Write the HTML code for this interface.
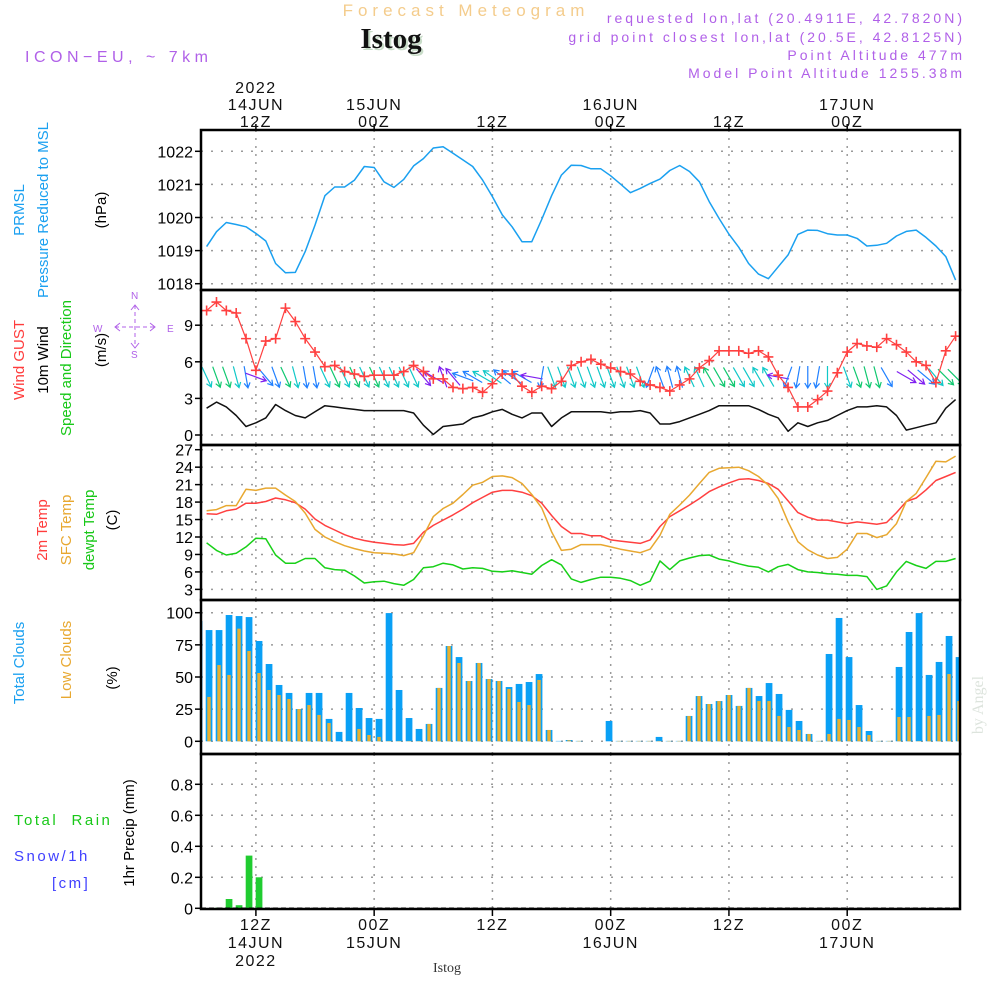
<!DOCTYPE html>
<html><head><meta charset="utf-8"><style>
html,body{margin:0;padding:0;background:#fff;}
svg{display:block;font-family:"Liberation Sans",sans-serif;}
</style></head><body>
<svg id="chart" width="1000" height="1000" viewBox="0 0 1000 1000" xmlns="http://www.w3.org/2000/svg">
<rect x="0" y="0" width="1000" height="1000" fill="#fff"/>
<text x="466" y="16" text-anchor="middle" font-size="17" letter-spacing="5" fill="#f4cc8c">Forecast Meteogram</text>
<text x="393" y="50" text-anchor="middle" font-size="29" font-weight="bold" font-family="Liberation Serif,serif" fill="#c8dcc8">Istog</text>
<text x="391" y="48" text-anchor="middle" font-size="29" font-weight="bold" font-family="Liberation Serif,serif" fill="#111">Istog</text>
<text x="25" y="62" font-size="16" letter-spacing="4.5" fill="#b060e8">ICON−EU, ~ 7km</text>
<g font-size="14" letter-spacing="3" fill="#b060e8" text-anchor="end">
<text x="965" y="23">requested lon,lat (20.4911E, 42.7820N)</text>
<text x="965" y="42">grid point closest lon,lat (20.5E, 42.8125N)</text>
<text x="965" y="60">Point Altitude 477m</text>
<text x="965" y="78">Model Point Altitude 1255.38m</text>
</g>
<g font-size="15">
<text transform="translate(24,210) rotate(-90)" text-anchor="middle" fill="#1aa0f0">PRMSL</text>
<text transform="translate(48,210) rotate(-90)" text-anchor="middle" fill="#1aa0f0">Pressure Reduced to MSL</text>
<text transform="translate(106,210) rotate(-90)" text-anchor="middle" fill="#000">(hPa)</text>
<text transform="translate(24,360) rotate(-90)" text-anchor="middle" fill="#ff3c3c">Wind GUST</text>
<text transform="translate(48,360) rotate(-90)" text-anchor="middle" fill="#000">10m Wind</text>
<text transform="translate(71,368) rotate(-90)" text-anchor="middle" fill="#18c818">Speed and Direction</text>
<text transform="translate(106,350) rotate(-90)" text-anchor="middle" fill="#000">(m/s)</text>
<text transform="translate(47,530) rotate(-90)" text-anchor="middle" fill="#ff3c3c">2m Temp</text>
<text transform="translate(71,530) rotate(-90)" text-anchor="middle" fill="#e8a830">SFC Temp</text>
<text transform="translate(94,530) rotate(-90)" text-anchor="middle" fill="#18c818">dewpt Temp</text>
<text transform="translate(117,520) rotate(-90)" text-anchor="middle" fill="#000">(C)</text>
<text transform="translate(24,663) rotate(-90)" text-anchor="middle" fill="#1aa0f0">Total Clouds</text>
<text transform="translate(71,660) rotate(-90)" text-anchor="middle" fill="#e8a830">Low Clouds</text>
<text transform="translate(117,678) rotate(-90)" text-anchor="middle" fill="#000">(%)</text>
<text x="14" y="825" fill="#18c818" letter-spacing="2.5" xml:space="preserve">Total  Rain</text>
<text x="14" y="861" fill="#4040ff" letter-spacing="2.5">Snow/1h</text>
<text x="52" y="888" fill="#4040ff" letter-spacing="2.5">[cm]</text>
<text transform="translate(134,833) rotate(-90)" text-anchor="middle" fill="#000">1hr Precip (mm)</text>
</g>
<g fill="#b060e8" stroke="#b060e8" font-size="10">
<text x="93" y="332" stroke="none">W</text><text x="167" y="332" stroke="none">E</text>
<text x="131" y="299" stroke="none">N</text><text x="131" y="358" stroke="none">S</text>
<line x1="115" y1="327" x2="155" y2="327" stroke-dasharray="4,3"/>
<line x1="135" y1="305" x2="135" y2="348" stroke-dasharray="4,3"/>
<path d="M120 323 L115 327 L120 331 M150 323 L155 327 L150 331 M131 310 L135 305 L139 310 M131 343 L135 348 L139 343" fill="none"/>
</g>
<text transform="translate(983,705) rotate(-90)" text-anchor="middle" font-size="16" font-family="Liberation Serif,serif" fill="#dde4dd">by Angel</text>
<text x="447" y="972" text-anchor="middle" font-size="14" font-family="Liberation Serif,serif" fill="#333">Istog</text>
<g id="plot"></g>
</svg>
<script>
// ---- data (hourly, t = -5 .. 71 hours from 12Z 14JUN) ----
const timeTickHours = [0, 12, 24, 36, 48, 60];
const topTickLabels = [["2022","14JUN","12Z"],["15JUN","00Z"],["12Z"],["16JUN","00Z"],["12Z"],["17JUN","00Z"]];
const bottomTickLabels = [["12Z","14JUN","2022"],["00Z","15JUN"],["12Z"],["00Z","16JUN"],["12Z"],["00Z","17JUN"]];
const pressure = [1019.12,1019.57,1019.85,1019.79,1019.72,1019.52,1019.29,1018.61,1018.33,1018.34,1018.97,1019.77,1020.66,1020.92,1020.92,1021.13,1021.54,1021.51,1021.08,1020.91,1021.15,1021.56,1021.78,1022.10,1022.14,1021.94,1021.74,1021.54,1021.13,1020.63,1020.08,1019.72,1019.27,1019.27,1019.94,1020.66,1021.28,1021.58,1021.57,
1021.47,1021.47,1021.26,1021.01,1020.75,1020.88,1021.03,1021.16,1021.42,1021.57,1021.39,1021.08,1020.48,1019.97,1019.50,1019.10,1018.61,1018.29,1018.15,1018.51,1018.87,1019.49,1019.62,1019.61,1019.51,1019.47,1019.47,1019.37,1019.14,1019.16,1019.22,1019.44,1019.58,1019.62,1019.40,1019.14,1018.82,1018.11];
const gust = [10.2,10.9,10.2,10.0,7.9,5.3,7.7,7.9,10.4,9.3,7.9,6.8,5.6,5.7,5.2,5.0,4.8,4.9,4.9,4.9,5.2,5.7,5.2,4.6,4.6,3.9,3.8,3.9,3.5,4.2,5.0,5.0,4.0,3.5,4.0,3.8,4.4,5.7,6.0,
6.2,5.8,5.5,5.2,5.0,4.4,4.1,3.9,3.6,4.1,4.6,5.5,6.1,6.9,6.9,6.9,6.7,6.9,6.4,4.9,3.9,2.3,2.3,2.9,3.6,5.1,6.8,7.5,7.3,7.2,7.9,7.4,6.8,6.0,5.7,4.3,6.9,8.1];
const windSpeed = [2.2,2.7,2.3,1.6,0.7,1.0,1.4,2.5,2.0,1.6,1.4,1.9,2.4,2.3,2.2,2.1,2.0,2.0,2.0,2.0,2.0,1.8,0.8,0.05,0.7,0.8,0.9,1.4,1.6,1.9,2.1,1.7,1.4,1.8,1.8,0.7,1.4,1.9,1.9,
1.9,1.9,1.8,1.9,1.9,2.0,1.8,0.9,0.9,1.1,1.4,1.7,2.0,2.4,2.4,2.4,2.4,2.1,1.7,1.4,0.3,1.0,0.7,1.0,1.2,1.6,2.0,2.3,2.3,2.4,2.3,1.6,0.4,0.6,0.8,1.0,2.2,2.9];
const windDir = [155,160,160,165,170,110,140,160,155,165,170,170,155,155,155,155,155,155,155,155,155,155,140,300,340,320,290,300,300,305,310,305,300,280,190,160,160,160,160,
160,160,160,160,160,160,200,340,345,345,335,335,330,150,150,150,150,330,330,280,200,190,180,190,180,-1,160,160,165,165,150,-1,120,130,130,140,135,135];
const windCol = ["c","g","g","c","b","p","b","b","g","c","b","b","c","g","c","g","c","g","c","c","c","c","p","p","p","p","b","b","c","c","b","b","b","p","b","c","c","c","c",
"c","c","c","c","c","c","b","b","b","b","c","c","g","g","g","c","c","c","c","p","b","b","b","b","c","c","c","g","g","g","b","c","p","p","b","c","g","g"];
const temp2m = [16.0,15.9,16.5,16.8,17.8,17.8,18.1,18.7,18.4,17.9,16.8,15.1,14.0,13.2,12.4,11.8,11.4,11.1,10.9,10.7,10.6,10.9,12.8,14.0,14.9,15.8,16.8,17.9,18.8,19.7,20.0,20.0,19.7,19.1,17.8,15.7,13.8,12.6,12.6,
12.2,12.2,11.5,11.3,11.1,10.9,11.5,13.8,15.5,16.5,17.5,18.6,19.8,20.6,21.3,21.9,22.0,21.7,21.2,20.2,18.2,16.2,15.4,14.9,14.9,14.6,14.3,14.6,14.4,14.2,14.5,16.2,18.1,18.7,20.1,21.7,22.4,23.1];
const sfcTemp = [16.5,16.7,17.4,17.4,20.2,20.0,20.4,20.4,19.2,18.1,16.1,13.3,12.0,11.2,10.5,10.0,9.6,9.3,9.2,9.1,8.8,9.3,12.2,15.5,16.9,17.8,19.3,20.9,21.4,22.4,22.5,22.2,21.2,19.3,17.0,12.9,9.7,9.9,10.7,
10.7,10.7,10.3,9.9,9.6,9.3,9.9,12.3,15.9,17.5,19.2,21.2,23.1,23.8,23.9,24.0,23.4,22.4,20.9,18.6,14.6,11.2,9.8,8.9,8.3,8.5,9.9,12.6,12.6,11.9,12.4,14.3,18.1,19.5,22.2,25.0,24.9,25.9];
const dewpt = [11.0,9.7,8.9,9.2,10.3,11.8,11.7,8.9,7.5,7.5,8.3,8.3,6.7,6.4,6.3,5.3,4.1,4.3,4.4,4.0,3.7,4.7,6.7,6.9,7.5,7.2,6.5,6.7,6.6,6.1,6.0,6.2,5.9,5.6,7.1,8.1,7.2,4.8,4.2,
4.7,5.1,5.1,4.9,4.5,3.7,4.4,7.9,6.4,7.9,8.4,8.8,8.9,8.2,7.9,7.4,7.0,6.8,6.0,6.9,7.3,6.4,6.0,5.9,5.7,5.6,5.4,5.4,5.2,3.0,3.6,6.0,7.8,7.1,6.6,7.8,7.8,8.3];
const totalClouds = [93.5,86.5,86.5,98.2,97.4,96.6,78.0,60.1,43.8,37.6,25.1,37.6,37.6,17.4,7.3,37.6,25.9,18.1,17.4,99.7,39.9,18.1,9.6,13.5,41.5,74.1,65.5,46.9,60.9,48.4,46.9,42.2,44.6,46.1,52.3,8.8,0.3,1.0,0.3,0,
0,15.8,0.3,0.3,0.3,0.3,3.4,0.3,0.3,19.7,35.2,29.0,31.3,36.0,27.5,41.5,35.2,45.3,36.8,24.4,15.8,5.7,0.3,67.9,95.9,65.5,28.2,8.0,0.3,0.3,57.8,85.0,99.7,51.6,61.7,81.9,65.5];
const lowClouds = [69.4,34.5,59.3,51.6,87.6,70.2,53.1,39.9,36.0,32.9,25.1,28.2,20.5,14.2,0,0.3,9.6,4.9,3.4,0.3,0.3,0.3,0.3,13.5,41.5,74.1,60.9,46.9,60.9,48.4,46.9,40.7,30.6,28.2,47.7,8.8,0,0.8,0.3,0,
0,0,0.3,0.3,0.3,0.3,0.3,0.3,0.3,19.7,35.2,29.0,31.3,36.0,27.5,41.5,31.3,31.3,19.7,11.1,8.8,5.7,0.3,5.7,17.4,16.6,11.1,4.9,0.3,0.3,18.9,18.9,0.3,19.7,20.5,52.3,31.3];
const precip = [0,0,0.005,0.06,0.02,0.34,0.2];
const pressureTicks = [1018,1019,1020,1021,1022];
const windTicks = [0,3,6,9];
const tempTicks = [3,6,9,12,15,18,21,24,27];
const cloudTicks = [0,25,50,75,100];
const precipTicks = [0,0.2,0.4,0.6,0.8];
const precipTickLabels = ["0","0.2","0.4","0.6","0.8"];

// ---- axes ----
const X0 = 201, X1 = 960;
const xL = t => 255.9 + t * 9.855;
const xB = k => 199 + k * 10;
const yP = v => 151.3 + (1022 - v) * 33.1;
const yW = v => 435 - v * 12.2;
const yT = v => 449.7 + (27 - v) * 5.82;
const yC = v => 741.3 - v * 1.286;
const yR = v => 908.3 - v * 155;
const panels = [
  {name:"pressure-panel", top:130, bot:290, ticks:pressureTicks, y:yP, labels:pressureTicks.map(String)},
  {name:"wind-panel", top:290, bot:445, ticks:windTicks, y:yW, labels:windTicks.map(String)},
  {name:"temperature-panel", top:445, bot:600, ticks:tempTicks, y:yT, labels:tempTicks.map(String)},
  {name:"clouds-panel", top:600, bot:754, ticks:cloudTicks, y:yC, labels:cloudTicks.map(String)},
  {name:"precip-panel", top:754, bot:909, ticks:precipTicks, y:yR, labels:precipTickLabels}
];
const NS = "http://www.w3.org/2000/svg";
const plot = document.getElementById("plot");
function mk(tag, attrs, parent) {
  const e = document.createElementNS(NS, tag);
  for (const k in attrs) e.setAttribute(k, attrs[k]);
  (parent || plot).appendChild(e);
  return e;
}
const clip = mk("clipPath", {id:"pclip"});
mk("rect", {x:X0, y:130, width:X1 - X0, height:780}, clip);

panels.forEach(p => {
  const g = mk("g", {});
  
  
  p.ticks.forEach((v, i) => {
    const y = p.y(v);
    const gl = mk("line", {x1:X0, x2:X1, y1:y, y2:y, stroke:"#9a9a9a", "stroke-width":1.5, "stroke-dasharray":"2,8"}, g);
    
    
    mk("line", {x1:X0 - 6, x2:X0, y1:y, y2:y, stroke:"#000", "stroke-width":1.5}, g);
    const t = mk("text", {x:X0 - 8, y:y + 6, "text-anchor":"end", "font-size":16, fill:"#000"}, g);
    
    
    t.textContent = p.labels[i];
  });
  timeTickHours.forEach(h => {
    const vl = mk("line", {x1:xL(h), x2:xL(h), y1:p.top, y2:p.bot, stroke:"#9a9a9a", "stroke-width":1.5, "stroke-dasharray":"2,6"}, g);
    
    
  });
});

timeTickHours.forEach((h, i) => {
  const x = xL(h);
  mk("line", {x1:x, x2:x, y1:124, y2:130, stroke:"#000", "stroke-width":1.5});
  mk("line", {x1:x, x2:x, y1:909, y2:916, stroke:"#000", "stroke-width":1.5});
  const lt = topTickLabels[i];
  lt.forEach((s, j) => {
    const t = mk("text", {x:x, y:127 - (lt.length - 1 - j) * 17, "text-anchor":"middle", "font-size":16, fill:"#111", "letter-spacing":1.5});
    
    
    t.textContent = s;
  });
  bottomTickLabels[i].forEach((s, j) => {
    const t = mk("text", {x:x, y:930 + j * 18, "text-anchor":"middle", "font-size":16, fill:"#111", "letter-spacing":1.5});
    
    
    t.textContent = s;
  });
});

const data = mk("g", {"clip-path":"url(#pclip)"});
function line(arr, yf, color, name, w) {
  const pts = arr.map((v, i) => xL(i - 5).toFixed(1) + "," + yf(v).toFixed(1)).join(" ");
  const pl = mk("polyline", {points:pts, fill:"none", stroke:color, "stroke-width":w || 1.5, "stroke-linejoin":"round"}, data);
  
  
}
line(pressure, yP, "#1aa0f0", "pressure-line");
line(windSpeed, yW, "#111", "wind-speed-line");
const colMap = {c:"#10c8c8", g:"#10c870", b:"#2080ff", p:"#8020f0"};
windDir.forEach((d, i) => {
  if (d < 0) return;
  const x = xL(i - 5), cy = 377, L = 22;
  const a = d * Math.PI / 180;
  const dx = Math.sin(a) * L / 2, dy = -Math.cos(a) * L / 2;
  const hx = x + dx, hy = cy + dy, tx = x - dx, ty = cy - dy;
  const ux = dx / (L / 2), uy = dy / (L / 2);
  const h1x = hx - 5 * ux - 3 * uy, h1y = hy - 5 * uy + 3 * ux;
  const h2x = hx - 5 * ux + 3 * uy, h2y = hy - 5 * uy - 3 * ux;
  const ar = mk("path", {d:`M${tx} ${ty}L${hx} ${hy}M${h1x} ${h1y}L${hx} ${hy}L${h2x} ${h2y}`, stroke:colMap[windCol[i]], "stroke-width":1.2, fill:"none"}, data);
  
  
});
line(gust, yW, "#ff4040", "gust-line", 1.2);
gust.forEach((v, i) => {
  const x = xL(i - 5), y = yW(v);
  const m = mk("path", {d:`M${x-5} ${y}H${x+5}M${x} ${y-5}V${y+5}`, stroke:"#ff4040", "stroke-width":1.6}, data);
  
  
});
line(temp2m, yT, "#ff4040", "temp-2m-line");
line(sfcTemp, yT, "#e8a830", "sfc-temp-line");
line(dewpt, yT, "#18d018", "dewpoint-line");
totalClouds.forEach((v, k) => {
  const x = xB(k);
  const b = mk("rect", {x:x - 3.3, y:yC(v), width:6.7, height:Math.max(0, yC(0) - yC(v)), fill:"#0aa0f5"}, data);
  
  
  const lv = lowClouds[k];
  const o = mk("rect", {x:x - 1.7, y:yC(lv), width:3.4, height:Math.max(0, yC(0) - yC(lv)), fill:"#e8b030"}, data);
  
  
});
precip.forEach((v, k) => {
  if (v <= 0) return;
  const x = xB(k);
  const b = mk("rect", {x:x - 3.3, y:yR(v), width:6.7, height:yR(0) - yR(v), fill:"#20cc30"}, data);
  
  
});
const base = mk("line", {x1:X0, x2:X1, y1:yR(0), y2:yR(0), stroke:"#000", "stroke-width":1.5, "stroke-dasharray":"5,3"});


panels.forEach(p => {
  const r = mk("rect", {x:X0, y:p.top, width:X1 - X0, height:p.bot - p.top, fill:"none", stroke:"#000", "stroke-width":2.5});
  
  
});
</script>
</body></html>
